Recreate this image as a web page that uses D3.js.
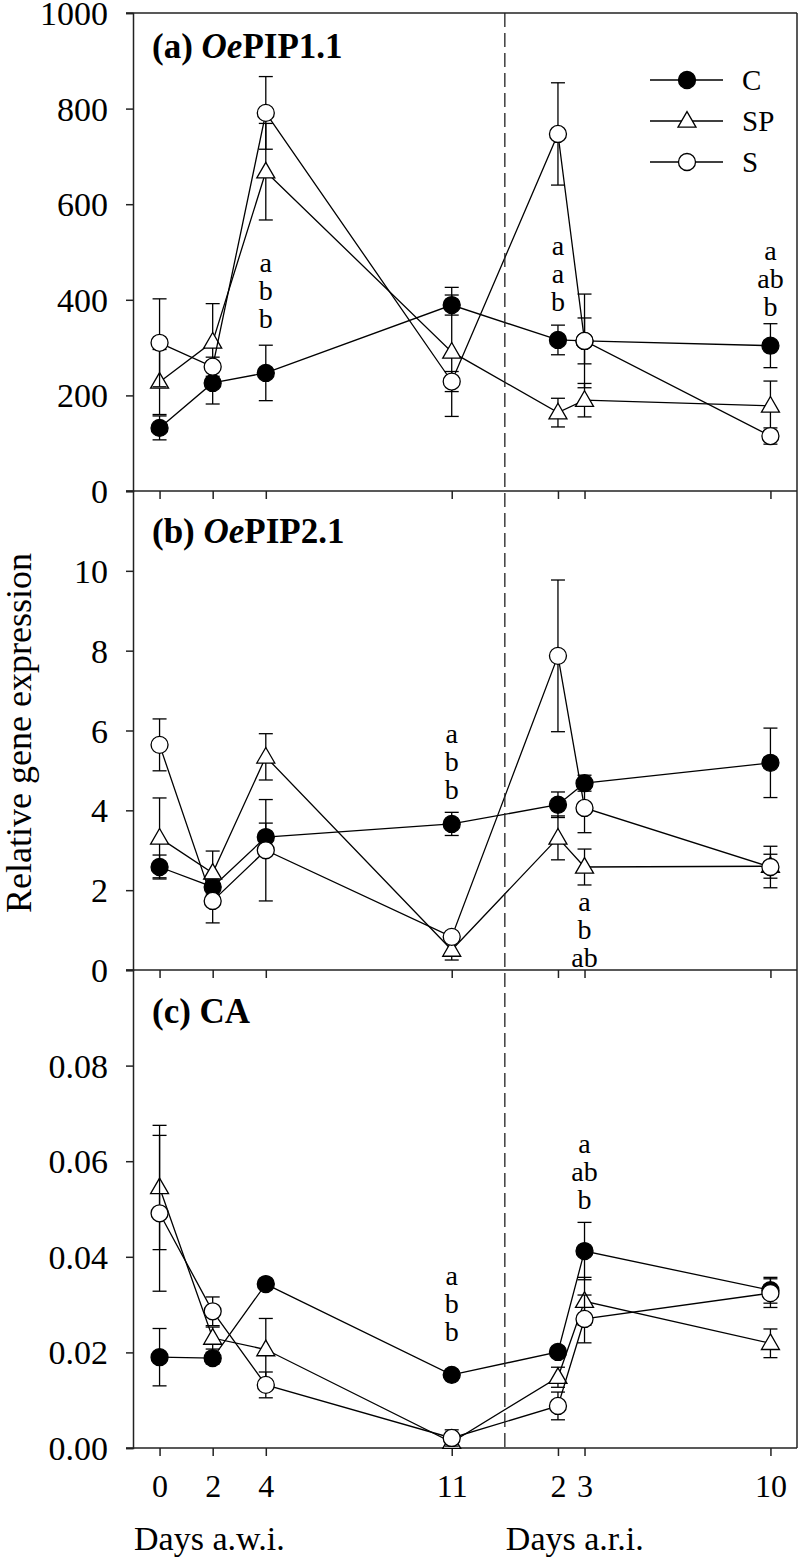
<!DOCTYPE html>
<html>
<head>
<meta charset="utf-8">
<script src="https://cdn.jsdelivr.net/npm/d3@7"></script>
<style>
  html, body { margin: 0; padding: 0; background: #fff; }
  svg { display: block; }
  text { font-family: "Liberation Serif", "Times New Roman", serif; fill: #000; }
</style>
</head>
<body>
<svg id="chart" width="800" height="1560"></svg>
<script>
// ---------------- DATA ----------------
const days = [0, 2, 4, 11, 15, 16, 23];           // 0-11: days a.w.i. ; 15,16,23 = 2,3,10 days a.r.i. (13 = re-irrigation)
const dayTickLabels = ["0", "2", "4", "11", "2", "3", "10"];
const seriesNames = ["C", "SP", "S"];
const reirrigationDay = 13;

// (a) OePIP1.1
const pip11_C = [132, 226, 247, 389, 316, 314, 304];
const pip11_C_err = [25, 44, 58, 21, 31, 48, 46];
const pip11_SP = [228, 312, 668, 291, 164, 190, 178];
const pip11_SP_err = [68, 80, 101, 135, 30, 35, 52];
const pip11_S = [310, 260, 791, 229, 747, 314, 115];
const pip11_S_err = [92, 20, 76, 21, 107, 98, 17];

// (b) OePIP2.1
const pip21_C = [2.58, 2.08, 3.33, 3.66, 4.14, 4.68, 5.19];
const pip21_C_err = [0.30, 0.15, 0.35, 0.29, 0.32, 0.20, 0.87];
const pip21_SP = [3.31, 2.43, 5.34, 0.50, 3.31, 2.58, 2.60];
const pip21_SP_err = [1.00, 0.55, 0.58, 0.25, 0.55, 0.45, 0.30];
const pip21_S = [5.64, 1.73, 3.00, 0.83, 7.87, 4.06, 2.58];
const pip21_S_err = [0.65, 0.55, 1.27, 0.10, 1.90, 0.62, 0.52];

// (c) CA
const ca_C = [0.0190, 0.0188, 0.0343, 0.0153, 0.0201, 0.0412, 0.0330];
const ca_C_err = [0.0060, 0.0012, 0.0008, 0.0008, 0.0010, 0.0060, 0.0027];
const ca_SP = [0.0545, 0.0230, 0.0206, 0.0012, 0.0148, 0.0307, 0.0219];
const ca_SP_err = [0.0130, 0.0023, 0.0065, 0.0008, 0.0021, 0.0050, 0.0030];
const ca_S = [0.0491, 0.0286, 0.0132, 0.0021, 0.0088, 0.0270, 0.0324];
const ca_S_err = [0.0163, 0.0030, 0.0027, 0.0017, 0.0029, 0.0050, 0.0030];

// y-axis ticks
const ticksA = [0, 200, 400, 600, 800, 1000];
const ticksB = [0, 2, 4, 6, 8, 10];
const ticksC = [0, 0.02, 0.04, 0.06, 0.08];

// significance letters: day, value of first letter's baseline, letters
const lettersA = [
  { day: 4, value: 458, lines: ["a", "b", "b"] },
  { day: 15, value: 494, lines: ["a", "a", "b"] },
  { day: 23, value: 483, lines: ["a", "ab", "b"] }
];
const lettersB = [
  { day: 11, value: 5.69, lines: ["a", "b", "b"] },
  { day: 16, value: 1.48, lines: ["a", "b", "ab"] }
];
const lettersC = [
  { day: 11, value: 0.034, lines: ["a", "b", "b"] },
  { day: 16, value: 0.0618, lines: ["a", "ab", "b"] }
];

// ---------------- LAYOUT ----------------
const svg = d3.select("#chart");
const left = 133, right = 797;
const panelTops = [13, 491, 970];
const panelBottoms = [491, 970, 1448];

const x = d3.scaleLinear().domain([-1, 24]).range([left, right]);

const panels = [
  {
    yDomain: [0, 1000], ticks: ticksA, fmt: d3.format("d"),
    series: [
      { name: "C", v: pip11_C, e: pip11_C_err },
      { name: "SP", v: pip11_SP, e: pip11_SP_err },
      { name: "S", v: pip11_S, e: pip11_S_err }
    ],
    letters: lettersA, titlePre: "(a) ", titleIt: "Oe", titlePost: "PIP1.1", titleOffset: 45
  },
  {
    yDomain: [0, 12], ticks: ticksB, fmt: d3.format("d"),
    series: [
      { name: "C", v: pip21_C, e: pip21_C_err },
      { name: "SP", v: pip21_SP, e: pip21_SP_err },
      { name: "S", v: pip21_S, e: pip21_S_err }
    ],
    letters: lettersB, titlePre: "(b) ", titleIt: "Oe", titlePost: "PIP2.1", titleOffset: 52
  },
  {
    yDomain: [0, 0.1], ticks: ticksC, fmt: d3.format(".2f"),
    series: [
      { name: "C", v: ca_C, e: ca_C_err },
      { name: "SP", v: ca_SP, e: ca_SP_err },
      { name: "S", v: ca_S, e: ca_S_err }
    ],
    letters: lettersC, titlePre: "(c) CA", titleIt: "", titlePost: "", titleOffset: 53
  }
];

const markerStyle = {
  C: { shape: "circle", fill: "#000" },
  SP: { shape: "triangle", fill: "#fff" },
  S: { shape: "circle", fill: "#fff" }
};
const R = 8.5;          // circle radius
const TS = 18;          // triangle side
const triPath = (() => {
  const h = TS * Math.sqrt(3) / 2;
  return `M0,${-2 * h / 3}L${TS / 2},${h / 3}L${-TS / 2},${h / 3}Z`;
})();

function drawMarker(g, name, cx, cy) {
  const st = markerStyle[name];
  if (st.shape === "circle") {
    g.append("circle").attr("cx", cx).attr("cy", cy).attr("r", R)
      .attr("fill", st.fill).attr("stroke", "#000").attr("stroke-width", 1.3);
  } else {
    g.append("path").attr("d", triPath).attr("transform", `translate(${cx},${cy + 1})`)
      .attr("fill", st.fill).attr("stroke", "#000").attr("stroke-width", 1.3)
      .attr("stroke-linejoin", "miter");
  }
}

const axisColor = "#222";

panels.forEach((p, i) => {
  const top = panelTops[i], bottom = panelBottoms[i];
  const y = d3.scaleLinear().domain(p.yDomain).range([bottom, top]);
  const g = svg.append("g");

  // y axis
  const yAxis = d3.axisLeft(y).tickValues(p.ticks).tickFormat(p.fmt).tickSize(7).tickPadding(18);
  const ya = g.append("g").attr("transform", `translate(${left},0)`).call(yAxis);
  ya.select(".domain").attr("stroke", axisColor).attr("stroke-width", 1.5);
  ya.selectAll(".tick line").attr("stroke", axisColor).attr("stroke-width", 1.5);
  ya.selectAll(".tick text").style("font-family", "Liberation Serif").style("font-size", "34px")
    .attr("fill", "#000").attr("dy", "0.34em");

  // x axis (bottom of panel)
  const xAxis = d3.axisBottom(x).tickValues(days).tickSize(8)
    .tickFormat(i === 2 ? (d, k) => dayTickLabels[k] : "").tickPadding(18);
  const xa = g.append("g").attr("transform", `translate(0,${bottom})`).call(xAxis);
  xa.select(".domain").attr("d", `M${left - 7},0H${right}`).attr("stroke", axisColor).attr("stroke-width", 1.5);
  xa.selectAll(".tick line").attr("stroke", axisColor).attr("stroke-width", 1.5);
  xa.selectAll(".tick text").style("font-family", "Liberation Serif").style("font-size", "32px")
    .attr("fill", "#000").attr("dy", "0.71em");

  // right frame
  g.append("line").attr("x1", right).attr("x2", right).attr("y1", top).attr("y2", bottom)
    .attr("stroke", axisColor).attr("stroke-width", 1.5);
  if (i === 0) {
    g.append("line").attr("x1", left - 7).attr("x2", right).attr("y1", top).attr("y2", top)
      .attr("stroke", axisColor).attr("stroke-width", 1.5);
  }

  // title
  const t = g.append("text").attr("x", 152).attr("y", top + p.titleOffset)
    .style("font-size", "35px").style("font-weight", "bold");
  t.append("tspan").text(p.titlePre);
  if (p.titleIt) t.append("tspan").style("font-style", "italic").text(p.titleIt);
  if (p.titlePost) t.append("tspan").text(p.titlePost);

  // series: error bars, line, markers
  p.series.forEach(s => {
    const sg = g.append("g");
    const pts = days.map((d, k) => ({ d, v: s.v[k], e: s.e[k] }));
    pts.forEach(pt => {
      const cx = x(pt.d);
      const y1 = y(pt.v + pt.e), y0 = y(pt.v - pt.e);
      sg.append("line").attr("x1", cx).attr("x2", cx).attr("y1", y1).attr("y2", y0)
        .attr("stroke", "#000").attr("stroke-width", 1.3);
      [y1, y0].forEach(yy => sg.append("line").attr("x1", cx - 7).attr("x2", cx + 7)
        .attr("y1", yy).attr("y2", yy).attr("stroke", "#000").attr("stroke-width", 1.3));
    });
    sg.append("path").datum(pts)
      .attr("d", d3.line().x(pt => x(pt.d)).y(pt => y(pt.v)))
      .attr("fill", "none").attr("stroke", "#000").attr("stroke-width", 1.3);
    pts.forEach(pt => drawMarker(sg, s.name, x(pt.d), y(pt.v)));
  });

  // significance letters
  p.letters.forEach(L => {
    L.lines.forEach((txt, k) => {
      g.append("text").attr("x", x(L.day)).attr("y", y(L.value) + k * 28)
        .attr("text-anchor", "middle").style("font-size", "28px").text(txt);
    });
  });

  // legend in panel a
  if (i === 0) {
    const legY = [80, 121, 162];
    seriesNames.forEach((n, k) => {
      const lg = g.append("g");
      lg.append("line").attr("x1", 650).attr("x2", 723).attr("y1", legY[k]).attr("y2", legY[k])
        .attr("stroke", "#000").attr("stroke-width", 1.3);
      drawMarker(lg, n, 687, legY[k]);
      lg.append("text").attr("x", 742).attr("y", legY[k] + 10).style("font-size", "29px").text(n);
    });
  }
});

// dashed re-irrigation line spanning all panels
svg.append("line").attr("x1", x(reirrigationDay)).attr("x2", x(reirrigationDay))
  .attr("y1", panelTops[0]).attr("y2", panelBottoms[2])
  .attr("stroke", "#222").attr("stroke-width", 1.3).attr("stroke-dasharray", "14,6");

// y-axis title
svg.append("text").attr("transform", `translate(31,733) rotate(-90)`)
  .attr("text-anchor", "middle").style("font-size", "36px").text("Relative gene expression");

// x-axis group titles
svg.append("text").attr("x", x(-1) + 1).attr("y", 1550).style("font-size", "34px").text("Days a.w.i.");
svg.append("text").attr("x", x(reirrigationDay) + 1).attr("y", 1550).style("font-size", "34px").text("Days a.r.i.");
</script>
</body>
</html>
